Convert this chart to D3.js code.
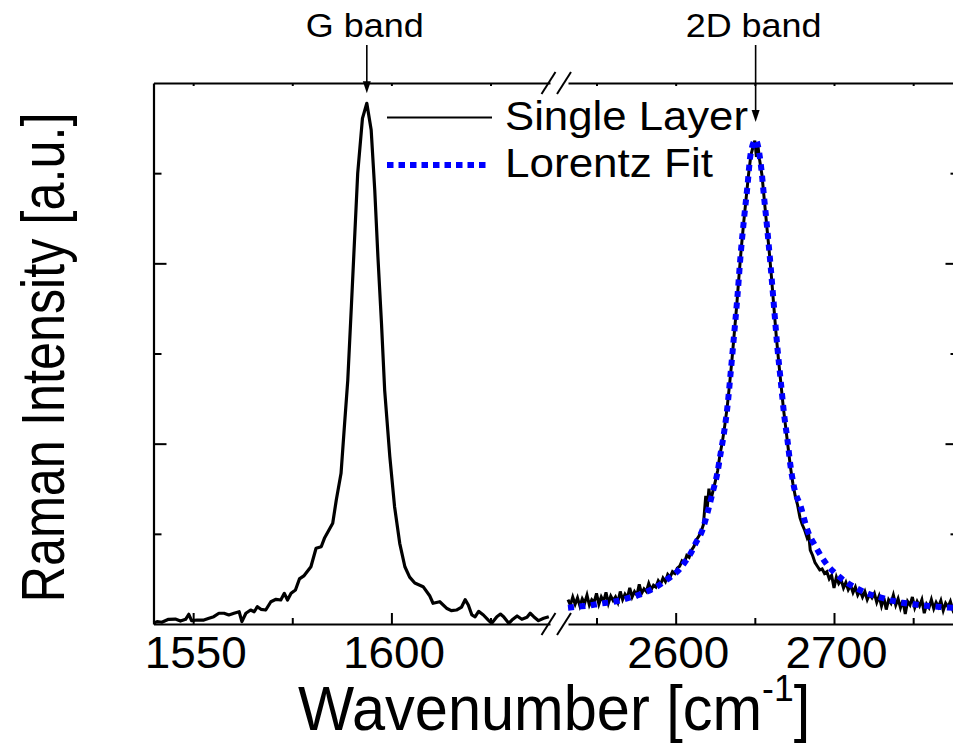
<!DOCTYPE html>
<html><head><meta charset="utf-8">
<script src="https://cdn.jsdelivr.net/npm/d3@7"></script>
<style>
body{margin:0;background:#fff}
svg{display:block}
text{font-family:"Liberation Sans",Arial,Helvetica,sans-serif;fill:#000}
</style>
</head><body>
<svg id="c" width="953" height="744"></svg>
<script>
// ---------- data ----------
// G band, single layer (left panel)
const gWavenumber=[1540.0,1540.9,1542.1,1543.8,1545.5,1546.8,1548.1,1548.9,1549.6,1551.0,1552.7,1554.0,1555.2,1556.5,1557.8,1559.0,1560.3,1561.6,1562.3,1563.3,1564.5,1565.4,1566.2,1567.1,1568.3,1569.6,1570.9,1572.1,1573.0,1573.8,1574.7,1575.8,1576.8,1578.0,1579.7,1581.0,1582.3,1583.1,1585.2,1586.1,1587.3,1588.2,1589.0,1589.9,1590.7,1591.5,1592.7,1593.8,1594.9,1595.8,1596.6,1597.5,1598.3,1599.6,1600.8,1602.1,1603.4,1604.6,1605.9,1608.0,1609.7,1610.5,1612.2,1613.9,1615.1,1616.4,1617.7,1618.6,1619.4,1620.3,1621.1,1622.0,1623.2,1624.5,1625.3,1626.6,1627.5,1628.3,1629.6,1630.4,1631.7,1632.9,1634.2,1635.0,1635.9,1637.1,1638.4,1639.7];
const gIntensity=[0.008,0.026,0.019,0.052,0.055,0.033,0.052,0.108,0.037,0.044,0.044,0.063,0.081,0.119,0.119,0.100,0.119,0.136,0.026,0.119,0.155,0.136,0.192,0.163,0.155,0.247,0.274,0.266,0.340,0.266,0.340,0.377,0.500,0.537,0.635,0.840,0.857,0.950,1.117,1.375,1.671,2.226,2.706,3.519,4.259,4.998,5.608,5.775,5.479,4.813,4.073,3.335,2.595,1.855,1.301,0.895,0.635,0.520,0.455,0.414,0.310,0.230,0.247,0.175,0.148,0.155,0.188,0.270,0.210,0.100,0.080,0.140,0.100,0.040,0.008,0.081,0.110,0.081,0.008,0.044,0.089,0.052,0.074,0.119,0.081,0.037,0.063,0.081];

// 2D band, single layer (right panel, measured)
const dWavenumber=[2532,2533.5,2535,2536.5,2538,2539.5,2541,2542.5,2544,2545.5,2547,2548.5,2550,2551.5,2553,2554.5,2556,2557.5,2559,2560.5,2562,2563.5,2565,2566.5,2568,2569.5,2571,2572.5,2574,2575.5,2577,2578.5,2580,2581.5,2583,2584.5,2586,2587.5,2589,2590.5,2592,2593.5,2595,2596.5,2598,2599.5,2601,2602.5,2604,2605.5,2607,2608.5,2610,2611.5,2613,2614.5,2616,2617.5,2619,2620,2621,2622,2623.5,2625,2626.5,2628,2629.5,2631,2632.5,2634,2635.5,2637,2638.5,2640,2641.5,2643,2644.5,2646,2647.5,2649,2650,2651,2652,2653,2654.5,2656,2657.5,2659,2660.5,2662,2663.5,2665,2666.5,2668,2669.5,2671,2672.5,2674,2675.5,2677,2678.5,2680,2681.5,2683,2684,2685,2686.5,2688,2689.5,2691,2692.5,2694,2695.5,2697,2698.5,2700,2701.5,2703,2704.5,2706,2707.5,2709,2710.5,2712,2713.5,2715,2716.5,2718,2719.5,2721,2722.5,2724,2725.5,2727,2728.5,2730,2731.5,2733,2734.5,2736,2737.5,2739,2740.5,2742,2743.5,2745,2746.5,2748,2749.5,2751,2752.5,2754,2755.5,2757,2758.5,2760,2761.5,2763,2764.5,2766,2767.5,2769,2770.5,2772,2773.5,2775,2776.5,2778];
const dIntensity=[0.27,0.21,0.30,0.22,0.29,0.20,0.28,0.23,0.32,0.21,0.27,0.24,0.34,0.22,0.30,0.25,0.35,0.23,0.31,0.26,0.30,0.24,0.36,0.27,0.33,0.29,0.40,0.30,0.36,0.32,0.44,0.34,0.39,0.36,0.45,0.38,0.43,0.41,0.48,0.44,0.51,0.47,0.55,0.52,0.58,0.56,0.62,0.64,0.70,0.68,0.76,0.74,0.82,0.86,0.93,0.97,1.02,1.10,1.42,1.30,1.50,1.36,1.47,1.58,1.70,1.88,2.02,2.20,2.40,2.65,2.92,3.22,3.52,3.86,4.18,4.46,4.72,4.98,5.20,5.30,5.36,5.18,5.30,5.15,4.98,4.70,4.42,4.15,3.85,3.52,3.20,2.92,2.66,2.40,2.18,1.96,1.74,1.56,1.42,1.32,1.18,1.10,1.04,0.96,1.00,0.82,0.76,0.68,0.64,0.60,0.61,0.56,0.58,0.50,0.54,0.40,0.52,0.45,0.49,0.40,0.46,0.38,0.43,0.35,0.41,0.32,0.37,0.30,0.36,0.27,0.33,0.29,0.34,0.24,0.31,0.20,0.29,0.16,0.27,0.23,0.32,0.21,0.28,0.18,0.26,0.11,0.25,0.21,0.30,0.18,0.25,0.20,0.27,0.12,0.22,0.18,0.27,0.17,0.24,0.19,0.26,0.15,0.23,0.19,0.25,0.16,0.22,0.19];

// Lorentz fit of the 2D band
const fitWavenumber=[2532,2538,2545,2552,2560,2567,2574,2581,2588,2595,2602,2606,2609.5,2612.6,2616.9,2620,2623.2,2626.3,2628.4,2630.5,2632.7,2634.7,2636.8,2639,2641.1,2643.1,2645.3,2647.4,2650.5,2653.7,2655.8,2657.9,2660,2662.1,2664.2,2666.3,2668.4,2670.6,2672.6,2674.7,2679,2683.2,2688.4,2695.8,2702.1,2709.5,2716.4,2722.1,2729.1,2735.8,2743.2,2750.5,2757.9,2765.3,2772,2778];
const fitIntensity=[0.180,0.192,0.205,0.225,0.244,0.272,0.308,0.353,0.414,0.499,0.599,0.691,0.784,0.895,1.042,1.228,1.449,1.671,1.893,2.115,2.410,2.780,3.186,3.630,4.111,4.480,4.850,5.220,5.368,5.109,4.739,4.370,3.963,3.519,3.075,2.706,2.337,2.041,1.744,1.523,1.301,1.042,0.857,0.654,0.543,0.444,0.377,0.333,0.296,0.263,0.236,0.218,0.203,0.192,0.183,0.178];

// axes
const leftDomain=[1540,1640];
const rightDomain=[2532,2778];
const intensityDomain=[0,6];
const leftTicks=[1550,1600];
const leftMinorTicks=[1575,1625];
const rightTicks=[2600,2700];
const rightMinorTicks=[2550,2650,2750];
const yMajorTicks=[2,4];
const yMinorTicks=[1,3,5];

// texts
const legendLabels=["Single Layer","Lorentz Fit"];
const bandLabels=["G band","2D band"];
const xTitle="Wavenumber [cm";
const xTitleSup="-1";
const yTitle="Raman Intensity [a.u.]";

// ---------- drawing ----------
const svg=d3.select("#c");
svg.append("rect").attr("width",953).attr("height",744).attr("fill","#fff");

const yTop=83, yBot=624, xLeft=153.5, xBreakL=550, xBreakR=568, xRight=957.5;
const xL=d3.scaleLinear().domain(leftDomain).range([xLeft,xBreakL]);
const xR=d3.scaleLinear().domain(rightDomain).range([xBreakR,xRight]);
const y=d3.scaleLinear().domain(intensityDomain).range([yBot,yTop]);

function styleAxis(g){
  g.selectAll("path.domain").attr("stroke","#000").attr("stroke-width",2.2);
  g.selectAll(".tick line").attr("stroke","#000").attr("stroke-width",2);
}
function tickLabels(g){
  g.selectAll(".tick text").attr("font-size",44).attr("textLength",102)
   .attr("lengthAdjust","spacingAndGlyphs").attr("dx",2)
   .style("font-family","'Liberation Sans',Arial,sans-serif").attr("fill","#000");
}

// bottom axes
const bl=svg.append("g").attr("transform",`translate(0,${yBot})`)
  .call(d3.axisBottom(xL).tickValues(leftTicks).tickSizeInner(-11).tickSizeOuter(0).tickPadding(13).tickFormat(d3.format("d")));
styleAxis(bl); tickLabels(bl);
const blm=svg.append("g").attr("transform",`translate(0,${yBot})`)
  .call(d3.axisBottom(xL).tickValues(leftMinorTicks).tickSizeInner(-6).tickSizeOuter(0).tickFormat(""));
blm.select(".domain").remove(); styleAxis(blm);
const br=svg.append("g").attr("transform",`translate(0,${yBot})`)
  .call(d3.axisBottom(xR).tickValues(rightTicks).tickSizeInner(-11).tickSizeOuter(0).tickPadding(13).tickFormat(d3.format("d")));
styleAxis(br); tickLabels(br);
const brm=svg.append("g").attr("transform",`translate(0,${yBot})`)
  .call(d3.axisBottom(xR).tickValues(rightMinorTicks).tickSizeInner(-6).tickSizeOuter(0).tickFormat(""));
brm.select(".domain").remove(); styleAxis(brm);

// top axes
[[xL,leftTicks.concat(leftMinorTicks)],[xR,rightTicks.concat(rightMinorTicks)]].forEach(([sc,tv])=>{
  const g=svg.append("g").attr("transform",`translate(0,${yTop})`)
    .call(d3.axisTop(sc).tickValues(tv).tickSizeInner(-3).tickSizeOuter(0).tickFormat(""));
  styleAxis(g);
});

// left & right axes
const la=svg.append("g").attr("transform",`translate(${xLeft},0)`)
  .call(d3.axisLeft(y).tickValues(yMajorTicks).tickSizeInner(-13).tickSizeOuter(0).tickFormat(""));
styleAxis(la);
const lam=svg.append("g").attr("transform",`translate(${xLeft},0)`)
  .call(d3.axisLeft(y).tickValues(yMinorTicks).tickSizeInner(-8).tickSizeOuter(0).tickFormat(""));
lam.select(".domain").remove(); styleAxis(lam);
const ra=svg.append("g").attr("transform",`translate(${xRight},0)`)
  .call(d3.axisRight(y).tickValues(yMajorTicks).tickSizeInner(-12).tickSizeOuter(0).tickFormat(""));
styleAxis(ra);
const ram=svg.append("g").attr("transform",`translate(${xRight},0)`)
  .call(d3.axisRight(y).tickValues(yMinorTicks).tickSizeInner(-7).tickSizeOuter(0).tickFormat(""));
ram.select(".domain").remove(); styleAxis(ram);

// axis break marks
[yTop,yBot].forEach(yy=>{
  [xBreakL-1.5, xBreakR-4].forEach(cx=>{
    svg.append("line").attr("x1",cx-7).attr("y1",yy+11).attr("x2",cx+7).attr("y2",yy-11)
      .attr("stroke","#000").attr("stroke-width",2);
  });
});

// data lines
const gData=gWavenumber.map((w,i)=>[w,gIntensity[i]]);
const dData=dWavenumber.map((w,i)=>[w,dIntensity[i]]);
const fData=fitWavenumber.map((w,i)=>[w,fitIntensity[i]]);

svg.append("path").datum(gData)
  .attr("d",d3.line().x(d=>xL(d[0])).y(d=>y(d[1])))
  .attr("fill","none").attr("stroke","#000").attr("stroke-width",3.2).attr("stroke-linejoin","round");
svg.append("path").datum(dData)
  .attr("d",d3.line().x(d=>xR(d[0])).y(d=>y(d[1])))
  .attr("fill","none").attr("stroke","#000").attr("stroke-width",3).attr("stroke-linejoin","miter");
svg.append("path").datum(fData)
  .attr("d",d3.line().curve(d3.curveMonotoneX).x(d=>xR(d[0])).y(d=>y(d[1])))
  .attr("fill","none").attr("stroke","#0000ff").attr("stroke-width",6).attr("stroke-dasharray","6,5.5");

// legend
const legX1=387, legX2=492, legTextX=505;
svg.append("line").attr("x1",legX1).attr("x2",legX2).attr("y1",117.5).attr("y2",117.5)
  .attr("stroke","#000").attr("stroke-width",2.2);
svg.append("line").attr("x1",legX1).attr("x2",486).attr("y1",165).attr("y2",165)
  .attr("stroke","#0000ff").attr("stroke-width",6).attr("stroke-dasharray","6.5,5");
svg.append("text").attr("x",legTextX).attr("y",130).attr("font-size",40)
  .attr("textLength",243).attr("lengthAdjust","spacingAndGlyphs").text(legendLabels[0]);
svg.append("text").attr("x",legTextX).attr("y",177).attr("font-size",40)
  .attr("textLength",208).attr("lengthAdjust","spacingAndGlyphs").text(legendLabels[1]);

// band annotations (arrow to each peak)
function peak(data){return data.reduce((a,b)=>b[1]>a[1]?b:a);}
const peaks=[{p:peak(gData),sc:xL,gap:10,len:118},{p:peak(fData),sc:xR,gap:18,len:136}];
peaks.forEach((o,i)=>{
  const px=o.sc(o.p[0]), tip=y(o.p[1])-o.gap;
  svg.append("line").attr("x1",px).attr("x2",px).attr("y1",45).attr("y2",tip-6)
    .attr("stroke","#000").attr("stroke-width",1.6);
  svg.append("path").attr("d",`M${px-4},${tip-12}L${px+4},${tip-12}L${px},${tip}Z`).attr("fill","#000");
  svg.append("text").attr("x",px-2).attr("y",37).attr("text-anchor","middle").attr("font-size",34)
    .attr("textLength",o.len).attr("lengthAdjust","spacingAndGlyphs").text(bandLabels[i]);
});

// axis titles
const xt=svg.append("text").attr("transform","translate(298,730) scale(0.96,1)").attr("font-size",62);
xt.append("tspan").text(xTitle);
xt.append("tspan").attr("font-size",37).attr("dy",-29).text(xTitleSup);
xt.append("tspan").attr("dy",29).text("]");

svg.append("text").attr("transform","translate(64,357.5) rotate(-90)").attr("text-anchor","middle")
  .attr("font-size",62).attr("textLength",490).attr("lengthAdjust","spacingAndGlyphs").text(yTitle);
</script>
</body></html>
